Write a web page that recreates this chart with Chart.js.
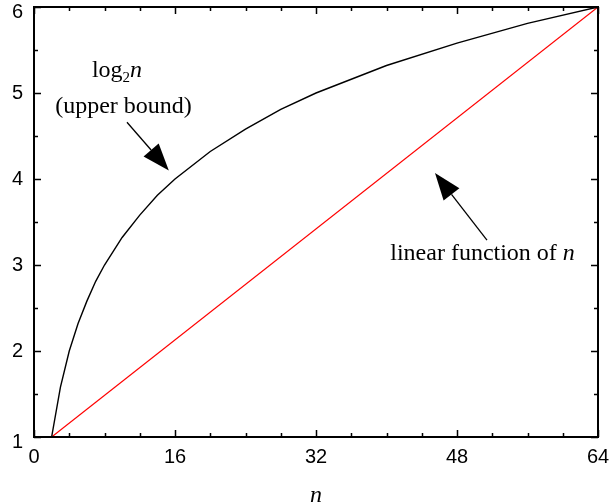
<!DOCTYPE html>
<html>
<head>
	<title>log2 n vs linear function of n</title>
	<script src="https://cdn.jsdelivr.net/npm/chart.js@4.4.0/dist/chart.umd.min.js" type="text/javascript"></script>
	<style>
        html, body {
            margin: 0;
            padding: 0;
            background: white;
        }
        #wrap {
            width: 611px;
            height: 504px;
        }
    </style>
</head>
<body>
	<div id="wrap"><canvas id="plot"></canvas></div>
</body>
<script>
	// values
	const logN = [2, 3, 4, 5, 6, 7, 8, 10, 12, 14, 16, 20, 24, 28, 32, 40, 48, 56, 64];
	const logVal = [1, 1.58, 2, 2.32, 2.58, 2.81, 3, 3.32, 3.58, 3.81, 4, 4.32, 4.58, 4.81, 5, 5.32, 5.58, 5.81, 6];
	const linN = [2, 64];
	const linVal = [1, 6];
	const xTicks = [0, 16, 32, 48, 64];
	const yTicks = [1, 2, 3, 4, 5, 6];

	const serif = "'Liberation Serif', 'Times New Roman', serif";
	const sans = "'Liberation Sans', Arial, sans-serif";

	// annotations, placed in data units
	const notes = {
		arrows: [
			{from: [10.55, 4.66], to: [15.3, 4.1]},
			{from: [51.4, 3.29], to: [45.5, 4.07]}
		],
		texts: [
			{at: [10.16, 4.77], text: "(upper bound)"},
			{at: [50.9, 3.06], text: "linear function of ", italic: "n"}
		],
		logLabel: [9.42, 5.19]
	};

	const frame = {
		id: 'frame',
		afterDraw(chart) {
			const ctx = chart.ctx, a = chart.chartArea;
			const xs = chart.scales.x, ys = chart.scales.y;
			ctx.save();
			ctx.strokeStyle = '#000';
			ctx.lineWidth = 2;
			ctx.strokeRect(a.left, a.top, a.right - a.left, a.bottom - a.top);
			ctx.lineWidth = 1.5;
			ctx.beginPath();
			for (var v = 0; v <= 64; v += 4) {
				var px = Math.round(xs.getPixelForValue(v)) + 0.5;
				var len = v % 16 === 0 ? 7 : 4;
				ctx.moveTo(px, a.bottom); ctx.lineTo(px, a.bottom - len);
				ctx.moveTo(px, a.top); ctx.lineTo(px, a.top + len);
			}
			for (var w = 1; w <= 6; w += 0.5) {
				var py = Math.round(ys.getPixelForValue(w)) + 0.5;
				var l2 = w % 1 === 0 ? 7 : 4;
				ctx.moveTo(a.left, py); ctx.lineTo(a.left + l2, py);
				ctx.moveTo(a.right, py); ctx.lineTo(a.right - l2, py);
			}
			ctx.stroke();

			// arrows
			ctx.fillStyle = '#000';
			ctx.lineWidth = 1.3;
			notes.arrows.forEach(ar => {
				var x0 = xs.getPixelForValue(ar.from[0]), y0 = ys.getPixelForValue(ar.from[1]);
				var x1 = xs.getPixelForValue(ar.to[0]), y1 = ys.getPixelForValue(ar.to[1]);
				var ang = Math.atan2(y1 - y0, x1 - x0);
				var hl = 27, hw = 10;
				var bx = x1 - hl * Math.cos(ang), by = y1 - hl * Math.sin(ang);
				ctx.beginPath();
				ctx.moveTo(x0, y0); ctx.lineTo(bx, by);
				ctx.stroke();
				ctx.beginPath();
				ctx.moveTo(x1, y1);
				ctx.lineTo(bx + hw * Math.sin(ang), by - hw * Math.cos(ang));
				ctx.lineTo(bx - hw * Math.sin(ang), by + hw * Math.cos(ang));
				ctx.closePath();
				ctx.fill();
			});

			// texts
			ctx.textBaseline = 'alphabetic';
			notes.texts.forEach(t => {
				var cx = xs.getPixelForValue(t.at[0]), cy = ys.getPixelForValue(t.at[1]);
				ctx.font = '24px ' + serif;
				var w1 = ctx.measureText(t.text).width;
				var w2 = 0;
				if (t.italic) {
					ctx.font = 'italic 24px ' + serif;
					w2 = ctx.measureText(t.italic).width;
				}
				var sx = cx - (w1 + w2) / 2;
				ctx.font = '24px ' + serif;
				ctx.textAlign = 'left';
				ctx.fillText(t.text, sx, cy);
				if (t.italic) {
					ctx.font = 'italic 24px ' + serif;
					ctx.fillText(t.italic, sx + w1, cy);
				}
			});

			// log_2 n
			var lx = xs.getPixelForValue(notes.logLabel[0]), ly = ys.getPixelForValue(notes.logLabel[1]);
			ctx.font = '24px ' + serif;
			var wl = ctx.measureText('log').width;
			ctx.font = '15px ' + serif;
			var ws = ctx.measureText('2').width;
			ctx.font = 'italic 24px ' + serif;
			var wn = ctx.measureText('n').width;
			var st = lx - (wl + ws + wn) / 2;
			ctx.textAlign = 'left';
			ctx.font = '24px ' + serif;
			ctx.fillText('log', st, ly);
			ctx.font = '15px ' + serif;
			ctx.fillText('2', st + wl, ly + 5);
			ctx.font = 'italic 24px ' + serif;
			ctx.fillText('n', st + wl + ws, ly);
			ctx.restore();
		}
	};

	const plotctx = document.getElementById('plot');
	var plot = new Chart(plotctx, {
		type: 'line',
		data: {
			datasets: [{
				label: 'log2 n',
				data: logN.map((n, i) => ({x: n, y: logVal[i]})),
				borderColor: '#000000',
				borderWidth: 1.4,
				pointRadius: 0,
				tension: 0,
				fill: false
			}, {
				label: 'linear',
				data: linN.map((n, i) => ({x: n, y: linVal[i]})),
				borderColor: '#ff0000',
				borderWidth: 1.2,
				pointRadius: 0,
				tension: 0,
				fill: false
			}]
		},
		options: {
			responsive: true,
			maintainAspectRatio: false,
			animation: false,
			events: [],
			layout: {
				padding: {top: 7, right: 13, left: 0, bottom: 0}
			},
			plugins: {
				legend: {display: false},
				tooltip: {enabled: false}
			},
			scales: {
				x: {
					type: 'linear',
					min: 0,
					max: 64,
					afterBuildTicks: s => { s.ticks = xTicks.map(v => ({value: v})); },
					afterFit: s => { s.height = 67; s.paddingLeft = 0; s.paddingRight = 0; },
					grid: {display: false, drawTicks: false},
					border: {display: false},
					ticks: {
						color: '#000',
						padding: 8,
						maxRotation: 0,
						font: {family: sans, size: 20}
					},
					title: {
						display: true,
						text: 'n',
						color: '#000',
						padding: {top: 0, bottom: -4},
						font: {family: serif, size: 24, style: 'italic', lineHeight: 1}
					}
				},
				y: {
					type: 'linear',
					min: 1,
					max: 6,
					afterBuildTicks: s => { s.ticks = yTicks.map(v => ({value: v})); },
					afterFit: s => { s.width = 34; s.paddingTop = 0; s.paddingBottom = 0; },
					grid: {display: false, drawTicks: false},
					border: {display: false},
					ticks: {
						color: '#000',
						padding: 11,
						// the end labels sit a little lower, as in the picture
						callback: v => (v === 1 || v === 6) ? ['', String(v)] : String(v),
						font: {family: sans, size: 20, lineHeight: 0.55}
					}
				}
			}
		},
		plugins: [frame]
	});
</script>
</html>
